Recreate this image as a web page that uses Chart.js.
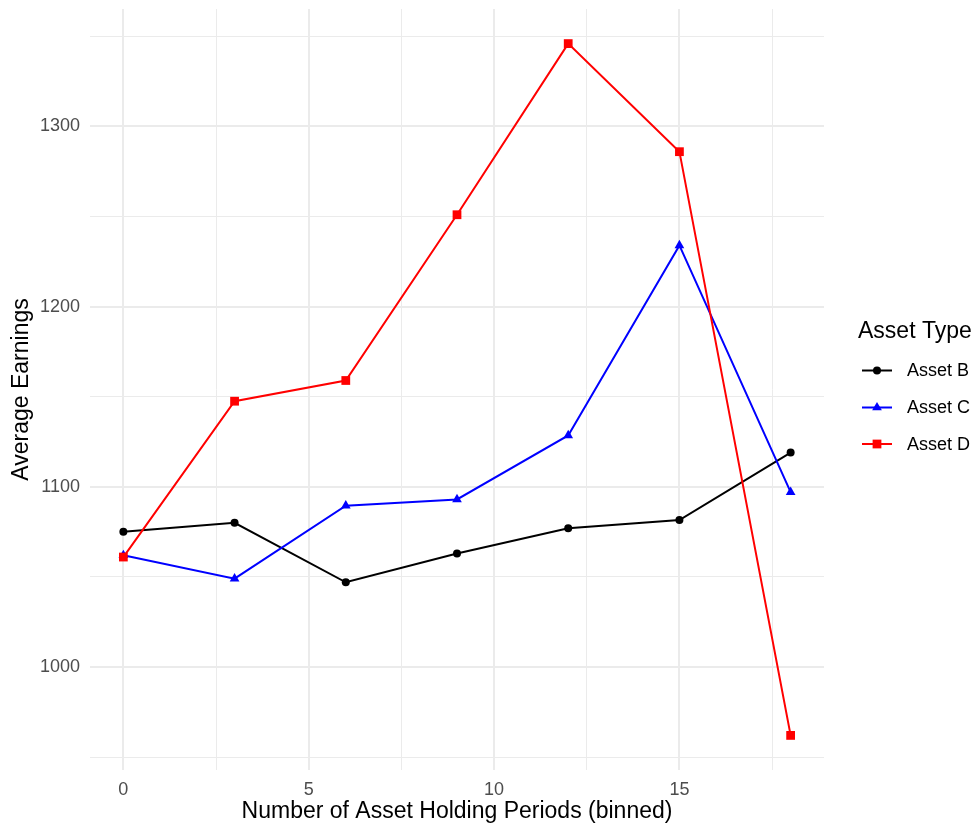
<!DOCTYPE html>
<html>
<head>
<meta charset="utf-8">
<script src="https://cdn.jsdelivr.net/npm/chart.js@4/dist/chart.umd.min.js"></script>
<style>
    html, body { margin: 0; padding: 0; background: #ffffff; }
    #wrap { width: 976px; height: 825px; }
</style>
</head>
<body>
<div id="wrap"><canvas id="lineChart" width="976" height="825"></canvas></div>
<script>
// Datos
const periodos = [0, 3, 6, 9, 12, 15, 18];
const assetB = [1075, 1080, 1047, 1063, 1077, 1081.5, 1119];
const assetC = [1062, 1049, 1089.5, 1093, 1128.5, 1234, 1097];
const assetD = [1061, 1147.5, 1159, 1251, 1346, 1286, 962];

const seriesNames = ["Asset B", "Asset C", "Asset D"];
const xTicks = [0, 2.5, 5, 7.5, 10, 12.5, 15, 17.5];
const yTicks = [950, 1000, 1050, 1100, 1150, 1200, 1250, 1300, 1350];

const fuente = "'Liberation Sans', Arial, Helvetica, sans-serif";
const gris = "#EBEBEB";

const estilos = [
    { color: "#000000", punto: "circle", radio: 4 },
    { color: "#0000FF", punto: "triangle", radio: 5.6 },
    { color: "#FF0000", punto: "rect", radio: 6.2 }
];

function puntos(valores) {
    return periodos.map((p, i) => ({ x: p, y: valores[i] }));
}

const datasets = [assetB, assetC, assetD].map((vals, i) => ({
    label: seriesNames[i],
    data: puntos(vals),
    borderColor: estilos[i].color,
    backgroundColor: estilos[i].color,
    borderWidth: 2,
    pointStyle: estilos[i].punto,
    pointRadius: estilos[i].radio,
    pointBorderWidth: 0,
    pointBackgroundColor: estilos[i].color,
    tension: 0,
    order: 2 - i
}));

// leyenda al estilo ggplot (linea + marcador)
const leyendaGG = {
    id: "leyendaGG",
    afterDraw(chart) {
        const ctx = chart.ctx;
        ctx.save();
        ctx.fillStyle = "#000000";
        ctx.font = "23px " + fuente;
        ctx.textAlign = "left";
        ctx.textBaseline = "alphabetic";
        ctx.fillText("Asset Type", 858, 337.5);

        const filas = [370.5, 407.5, 444];
        chart.data.datasets.forEach((ds, i) => {
            const y = filas[i];
            ctx.strokeStyle = ds.borderColor;
            ctx.lineWidth = 2;
            ctx.beginPath();
            ctx.moveTo(862, y);
            ctx.lineTo(892, y);
            ctx.stroke();
            ctx.fillStyle = ds.borderColor;
            Chart.helpers.drawPoint(ctx, {
                pointStyle: ds.pointStyle,
                radius: ds.pointRadius,
                rotation: 0,
                borderWidth: 0
            }, 877, y);
            ctx.fillStyle = "#000000";
            ctx.font = "18px " + fuente;
            ctx.textBaseline = "middle";
            ctx.fillText(ds.label, 907, y + 1);
        });
        ctx.restore();
    }
};

new Chart(document.getElementById("lineChart"), {
    type: "line",
    data: { datasets: datasets },
    options: {
        responsive: false,
        animation: false,
        layout: { padding: { top: 9, right: 152, left: 0, bottom: 0 } },
        scales: {
            x: {
                type: "linear",
                min: -0.9,
                max: 18.9,
                afterBuildTicks: axis => { axis.ticks = xTicks.map(v => ({ value: v })); },
                afterFit: axis => {
                    axis.height = 55;
                    axis.paddingLeft = 0;
                    axis.paddingRight = 0;
                },
                border: { display: false },
                grid: {
                    color: gris,
                    drawTicks: false,
                    lineWidth: c => (c.tick && c.tick.value % 5 === 0 ? 2 : 1)
                },
                ticks: {
                    padding: 9,
                    color: "#4D4D4D",
                    font: { family: fuente, size: 18 },
                    maxRotation: 0,
                    autoSkip: false,
                    callback: v => (v % 5 === 0 ? String(v) : "")
                },
                title: {
                    display: true,
                    text: "Number of Asset Holding Periods (binned)",
                    color: "#000000",
                    font: { family: fuente, size: 23 },
                    padding: { top: 0, bottom: 0 }
                }
            },
            y: {
                min: 942.8,
                max: 1365.2,
                afterBuildTicks: axis => { axis.ticks = yTicks.map(v => ({ value: v })); },
                afterFit: axis => {
                    axis.width = 90;
                    axis.paddingTop = 0;
                    axis.paddingBottom = 0;
                },
                border: { display: false },
                grid: {
                    color: gris,
                    drawTicks: false,
                    lineWidth: c => (c.tick && c.tick.value % 100 === 0 ? 2 : 1)
                },
                ticks: {
                    padding: 10,
                    color: "#4D4D4D",
                    font: { family: fuente, size: 18 },
                    autoSkip: false,
                    callback: v => (v % 100 === 0 ? String(v) : "")
                },
                title: {
                    display: true,
                    text: "Average Earnings",
                    color: "#000000",
                    font: { family: fuente, size: 23 },
                    padding: { top: 8, bottom: 0 }
                }
            }
        },
        plugins: {
            legend: { display: false },
            tooltip: { enabled: false }
        }
    },
    plugins: [leyendaGG]
});
</script>
</body>
</html>
